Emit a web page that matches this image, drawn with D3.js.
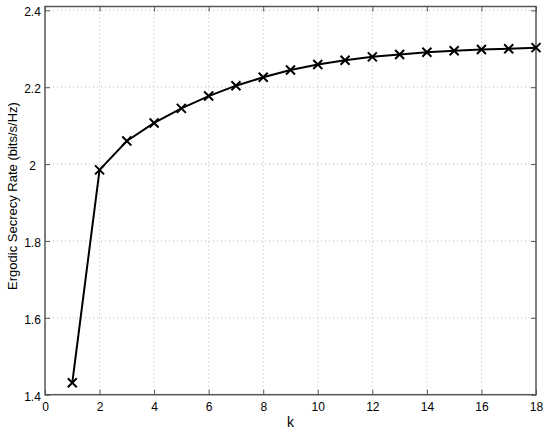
<!DOCTYPE html>
<html><head><meta charset="utf-8">
<script src="https://cdn.jsdelivr.net/npm/d3@7"></script>
<style>body{margin:0;background:#fff}svg{display:block}text{font-family:"Liberation Sans",Arial,sans-serif}</style>
</head><body>
<script>
const kValues = [1,2,3,4,5,6,7,8,9,10,11,12,13,14,15,16,17,18];
const rateValues = [1.431,1.985,2.060,2.107,2.145,2.177,2.204,2.226,2.245,2.259,2.270,2.279,2.285,2.291,2.295,2.298,2.300,2.303];
const xTicks = [0,2,4,6,8,10,12,14,16,18];
const yTicks = [1.4,1.6,1.8,2.0,2.2,2.4];
const yTickLabels = ["1.4","1.6","1.8","2","2.2","2.4"];
const xLabel = "k";
const yLabel = "Ergodic Secrecy Rate (bits/s/Hz)";

const W=554,H=433;
const m={l:45,r:18,t:6.5,b:38.3};
const svg=d3.select("body").append("svg").attr("width",W).attr("height",H);
const x=d3.scaleLinear().domain([0,18]).range([m.l,W-m.r]);
const y=d3.scaleLinear().domain([1.4,2.41]).range([H-m.b,m.t]);
const axisCol="#555";

// grid
const g=svg.append("g");
g.selectAll(".gx").data(xTicks.slice(1,-1)).enter().append("line")
 .attr("x1",d=>x(d)).attr("x2",d=>x(d)).attr("y1",y.range()[0]).attr("y2",y.range()[1])
 .attr("stroke","#bbb").attr("stroke-width",1).attr("stroke-dasharray","1,3");
g.selectAll(".gy").data(yTicks.slice(1)).enter().append("line")
 .attr("y1",d=>y(d)).attr("y2",d=>y(d)).attr("x1",x.range()[0]).attr("x2",x.range()[1])
 .attr("stroke","#bbb").attr("stroke-width",1).attr("stroke-dasharray","1,3");

// axes
const xa=d3.axisBottom(x).tickValues(xTicks).tickSize(-5).tickPadding(8).tickFormat(d3.format("d"));
const xt=d3.axisTop(x).tickValues(xTicks).tickSize(-5).tickFormat("");
const ya=d3.axisLeft(y).tickValues(yTicks).tickSize(-5).tickPadding(8).tickFormat((d,i)=>yTickLabels[i]);
const yr=d3.axisRight(y).tickValues(yTicks).tickSize(-5).tickFormat("");
function style(sel){sel.select(".domain").remove();sel.selectAll("line").attr("stroke",axisCol);sel.selectAll("text").attr("fill","#000").style("font-size","12px").style("font-family","'Liberation Sans',Arial,sans-serif");}
svg.append("g").attr("transform",`translate(0,${y(1.4)})`).call(xa).call(style);
svg.append("g").attr("transform",`translate(0,${m.t})`).call(xt).call(style);
const yg=svg.append("g").attr("transform",`translate(${m.l},0)`).call(ya).call(style);
yg.selectAll("text").attr("text-anchor","middle").attr("x",-12.5).attr("dy","0.45em");
svg.append("g").attr("transform",`translate(${W-m.r},0)`).call(yr).call(style);
svg.append("rect").attr("x",m.l).attr("y",m.t).attr("width",W-m.r-m.l).attr("height",H-m.b-m.t)
 .attr("fill","none").attr("stroke",axisCol).attr("stroke-width",1.5);

// line
const data=kValues.map((k,i)=>({k,v:rateValues[i]}));
svg.append("path").datum(data).attr("d",d3.line().x(d=>x(d.k)).y(d=>y(d.v)))
 .attr("fill","none").attr("stroke","#000").attr("stroke-width",2);
const s=4.5;
const mk=svg.selectAll(".mk").data(data).enter().append("g").attr("transform",d=>`translate(${x(d.k)},${y(d.v)})`);
mk.append("path").attr("d",`M${-s},${-s}L${s},${s}M${-s},${s}L${s},${-s}`).attr("stroke","#000").attr("stroke-width",2);

svg.append("text").attr("x",x(9)).attr("y",427).attr("text-anchor","middle").style("font-size","14px").text(xLabel);
svg.append("text").attr("transform",`translate(17,196) rotate(-90)`).attr("text-anchor","middle").style("font-size","13px").text(yLabel);
</script>
</body></html>
